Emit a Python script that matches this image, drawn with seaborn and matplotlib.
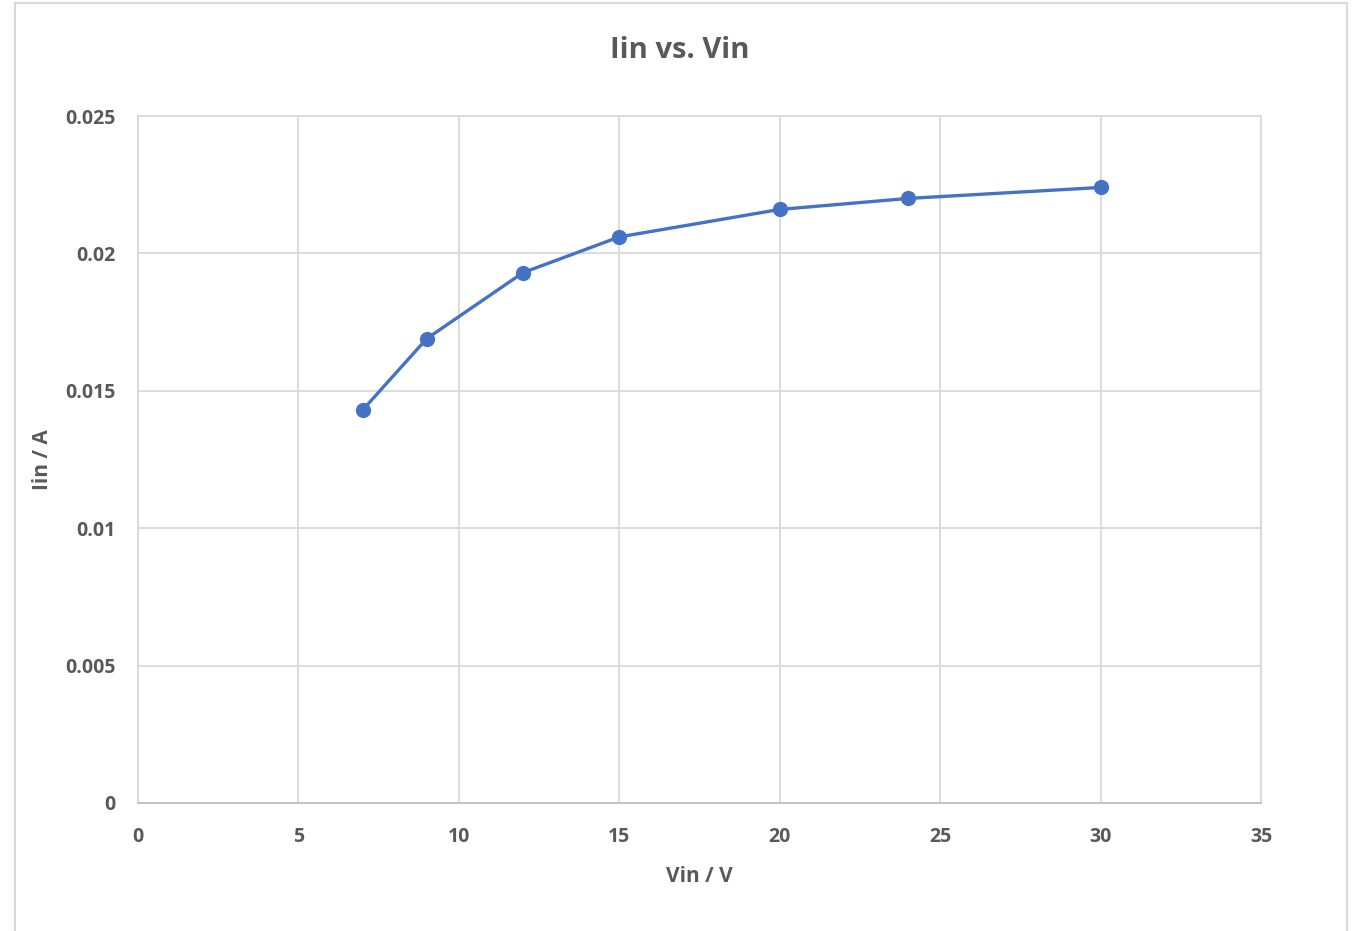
import seaborn as sns
import matplotlib.pyplot as plt
import matplotlib.patches as patches
import pandas as pd

sns.set_style("whitegrid", {'grid.color': '#d9d9d9', 'axes.edgecolor': '#d9d9d9'})
plt.rcParams['font.family'] = ['Open Sans', 'DejaVu Sans']

# measured points
vin = [7, 9, 12, 15, 20, 24, 30]
iin = [0.0143, 0.0169, 0.0193, 0.0206, 0.0216, 0.0220, 0.0224]
xticks = [0, 5, 10, 15, 20, 25, 30, 35]
yticks = [0, 0.005, 0.01, 0.015, 0.02, 0.025]
ylabels = ['0', '0.005', '0.01', '0.015', '0.02', '0.025']

df = pd.DataFrame({'Vin': vin, 'Iin': iin})
grey = '#595959'

fig = plt.figure(figsize=(13.6, 9.31), dpi=100)
ax = fig.add_axes([0.1015, 0.1375, 0.8257, 0.7379])

sns.lineplot(data=df, x='Vin', y='Iin', ax=ax, color='#4472C4', linewidth=2.4,
             marker='o', markersize=11, markeredgewidth=0)

ax.set_xlim(0, 35)
ax.set_ylim(0, 0.025)
ax.set_xticks(xticks)
ax.set_xticklabels([str(t) for t in xticks])
ax.set_yticks(yticks)
ax.set_yticklabels(ylabels)
ax.tick_params(axis='both', length=0, labelsize=14, labelcolor=grey)
ax.tick_params(axis='x', pad=17)
ax.tick_params(axis='y', pad=16)
for lab in ax.get_xticklabels() + ax.get_yticklabels():
    lab.set_fontweight('bold')
ax.grid(True, color='#d9d9d9', linewidth=1.3)
for s in ax.spines.values():
    s.set_color('#d9d9d9')
    s.set_linewidth(1.3)
ax.spines['bottom'].set_color('#bfbfbf')

ax.set_xlabel('Vin / V', fontsize=15, fontweight='bold', color=grey, labelpad=14)
ax.set_ylabel('Iin / A', fontsize=15, fontweight='bold', color=grey, labelpad=9)
fig.text(0.5, 0.946, 'Iin vs. Vin', ha='center', va='center', fontsize=21,
         fontweight='bold', color=grey)

# chart border
fig.patches.append(patches.Rectangle((15 / 1360, -0.01), 1332 / 1360, 0.9966 + 0.01,
                                     transform=fig.transFigure, fill=False,
                                     edgecolor='#d9d9d9', linewidth=1.5))

plt.savefig("out.png", dpi=100)
